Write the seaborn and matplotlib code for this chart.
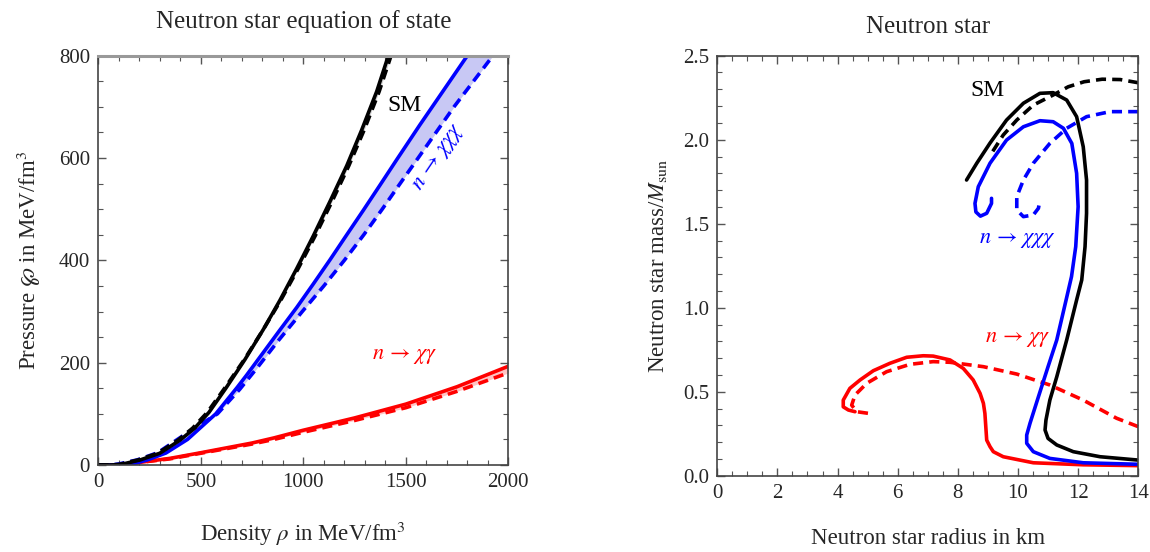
import numpy as np
import matplotlib
matplotlib.use('Agg')
import matplotlib.pyplot as plt
from matplotlib.ticker import MultipleLocator
import seaborn as sns

# --------------------------
# DATA : equation of state (density rho, pressure P), MeV/fm^3
# --------------------------
rho_sm = [0, 60, 110, 205, 300, 400, 470, 540, 622, 715, 805, 886, 968, 1049, 1130, 1212, 1285, 1358, 1415]
p_sm = [0, 0, 1, 10, 23, 49, 72, 103, 150, 206, 265, 322, 384, 448, 515, 585, 655, 730, 800]
rho_sm_d = [0, 50, 100, 195, 290, 390, 460, 532, 616, 712, 805, 890, 975, 1058, 1140, 1222, 1297, 1370, 1428]
p_sm_d = p_sm

rho_xxx = [0, 80, 130, 175, 240, 330, 435, 573, 678, 724, 805, 886, 968, 1049, 1130, 1212, 1293, 1374,
           1456, 1569, 1800]
p_xxx = [0, 0, 1, 3, 10, 23.5, 50, 100, 152, 176, 220, 264, 308, 354, 401, 450, 498, 547, 597, 665, 800]
rho_xxx_d = [0, 60, 100, 190, 290, 386, 480, 581, 690, 775, 880, 995, 1100, 1200, 1295, 1385, 1472,
             1560, 1735, 1925]
p_xxx_d = [0, 0, 2, 10, 24, 50, 75, 100, 148, 190, 244, 300, 350, 400, 450, 500, 550, 600, 700, 800]

rho_xg = [0, 100, 200, 350, 500, 750, 857, 1000, 1250, 1500, 1750, 2000]
p_xg = [0, 0, 5, 13, 24, 43, 53, 68, 92, 119, 153, 193]
p_xg_d = [0, 0, 5, 12, 23, 41, 50, 64, 87, 112, 144, 180]

# --------------------------
# DATA : mass-radius curves (R in km, M in M_sun)
# --------------------------
r_sm = [14.0, 12.73, 11.84, 11.29, 11.0, 10.9, 10.93, 11.06, 11.29, 11.62, 11.95, 12.12, 12.23, 12.28,
        12.28, 12.17, 11.95, 11.62, 11.17, 10.73, 10.18, 9.62, 9.07, 8.63, 8.29]
m_sm = [0.093, 0.113, 0.143, 0.183, 0.222, 0.272, 0.331, 0.45, 0.589, 0.808, 1.046, 1.165, 1.363, 1.562,
        1.76, 1.958, 2.137, 2.236, 2.28, 2.276, 2.217, 2.117, 1.98, 1.86, 1.76]
r_sm_d = [14.0, 13.4, 12.8, 12.2, 11.67, 11.17, 10.51, 9.96, 9.51, 9.12]
m_sm_d = [2.339, 2.358, 2.36, 2.345, 2.315, 2.266, 2.206, 2.117, 2.028, 1.919]

r_xxx = [14.0, 12.17, 11.06, 10.51, 10.29, 10.29, 10.4, 10.68, 11.0, 11.29, 11.6, 11.78, 11.92, 12.0,
         11.95, 11.79, 11.51, 11.17, 10.73, 10.18, 9.62, 9.07, 8.68, 8.57, 8.6, 8.75, 8.96, 9.12, 9.12]
m_xxx = [0.068, 0.077, 0.103, 0.143, 0.193, 0.242, 0.312, 0.47, 0.649, 0.808, 1.046, 1.185, 1.363, 1.601,
         1.80, 1.978, 2.068, 2.107, 2.113, 2.077, 1.998, 1.86, 1.72, 1.621, 1.57, 1.545, 1.562, 1.621, 1.651]
r_xxx_d = [14.0, 13.06, 12.28, 11.62, 11.06, 10.51, 10.18, 9.96, 9.96, 10.18, 10.51, 10.68, 10.73]
m_xxx_d = [2.167, 2.167, 2.137, 2.068, 1.978, 1.86, 1.76, 1.661, 1.582, 1.542, 1.552, 1.592, 1.64]

r_xg = [14.0, 12.17, 10.51, 9.51, 9.18, 9.07, 8.96, 8.9, 8.85, 8.74, 8.51, 8.18, 7.74, 7.18, 6.85,
        6.30, 5.74, 5.19, 4.75, 4.41, 4.19, 4.19, 4.36, 4.58]
m_xg = [0.06, 0.065, 0.077, 0.113, 0.143, 0.173, 0.212, 0.371, 0.431, 0.49, 0.57, 0.639, 0.689, 0.712,
        0.714, 0.705, 0.669, 0.625, 0.57, 0.52, 0.45, 0.41, 0.391, 0.381]
r_xg_d = [14.0, 13.28, 12.17, 11.06, 9.96, 8.85, 7.74, 7.18, 6.41, 5.63, 4.97, 4.58, 4.47, 4.64, 5.19]
m_xg_d = [0.292, 0.342, 0.45, 0.54, 0.605, 0.649, 0.675, 0.679, 0.663, 0.619, 0.55, 0.48, 0.42, 0.381,
          0.367]

BLACK, BLUE, RED = '#000000', '#0000ff', '#ff0000'
LW = 2.6
DASH = (0, (2.8, 1.7))

# --------------------------
# STYLE
# --------------------------
sns.set_theme(style="ticks")
plt.rcParams['font.family'] = ['Liberation Serif', 'DejaVu Serif']
plt.rcParams['mathtext.fontset'] = 'stix'

fig = plt.figure(figsize=(11.5, 5.52), dpi=100)
ax1 = fig.add_axes([0.0855, 0.1576, 0.3565, 0.7415])
ax2 = fig.add_axes([0.6237, 0.1382, 0.3661, 0.7609])


def curve(ax, x, y, color, dashed=False):
    kw = dict(linestyle=DASH) if dashed else {}
    sns.lineplot(x=x, y=y, ax=ax, sort=False, estimator=None, color=color,
                 linewidth=LW, **kw)


def band(ax, xs, ys, xd, yd, color):
    grid = np.linspace(0, 2000, 400)
    ax.fill_between(grid, np.interp(grid, xs, ys), np.interp(grid, xd, yd),
                    color=color, lw=0)


# --------------------------
# LEFT : equation of state
# --------------------------
band(ax1, rho_sm, p_sm, rho_sm_d, p_sm_d, '#d0d0d0')
band(ax1, rho_xxx, p_xxx, rho_xxx_d, p_xxx_d, '#c8c8f4')
band(ax1, rho_xg, p_xg, rho_xg, p_xg_d, '#ffc4c4')
curve(ax1, rho_xg, p_xg, RED)
curve(ax1, rho_xg, p_xg_d, RED, dashed=True)
curve(ax1, rho_xxx, p_xxx, BLUE)
curve(ax1, rho_xxx_d, p_xxx_d, BLUE, dashed=True)
curve(ax1, rho_sm, p_sm, BLACK)
curve(ax1, rho_sm_d, p_sm_d, BLACK, dashed=True)

ax1.text(1494, 702, 'SM', color=BLACK, fontsize=17, ha='center', va='center')
ax1.text(1665, 600, r'$n\,\rightarrow\,\chi\chi\chi$', color=BLUE, fontsize=16,
         ha='center', va='center', rotation=56)
ax1.text(1494, 212, r'$n\,\rightarrow\,\chi\gamma$', color=RED, fontsize=16,
         ha='center', va='center')

ax1.set_xlim(0, 2000)
ax1.set_ylim(0, 800)
ax1.xaxis.set_major_locator(MultipleLocator(500))
ax1.xaxis.set_minor_locator(MultipleLocator(100))
ax1.yaxis.set_major_locator(MultipleLocator(200))
ax1.yaxis.set_minor_locator(MultipleLocator(50))
ax1.set_title('Neutron star equation of state', fontsize=18, pad=20)
ax1.set_xlabel(r'Density $\rho$ in MeV/fm$^3$', fontsize=16.5)
ax1.set_ylabel(r'Pressure $\wp$ in MeV/fm$^3$', fontsize=16.5)
ax1.xaxis.set_label_coords(0.5, -0.135)
ax1.yaxis.set_label_coords(-0.135, 0.5)

# --------------------------
# RIGHT : mass-radius
# --------------------------
curve(ax2, r_xg, m_xg, RED)
curve(ax2, r_xg_d, m_xg_d, RED, dashed=True)
curve(ax2, r_xxx, m_xxx, BLUE)
curve(ax2, r_xxx_d, m_xxx_d, BLUE, dashed=True)
curve(ax2, r_sm, m_sm, BLACK)
curve(ax2, r_sm_d, m_sm_d, BLACK, dashed=True)

ax2.text(9.0, 2.29, 'SM', color=BLACK, fontsize=17, ha='center', va='center')
ax2.text(9.97, 1.40, r'$n\,\rightarrow\,\chi\chi\chi$', color=BLUE, fontsize=16,
         ha='center', va='center')
ax2.text(10.0, 0.81, r'$n\,\rightarrow\,\chi\gamma$', color=RED, fontsize=16,
         ha='center', va='center')

ax2.set_xlim(0, 14)
ax2.set_ylim(0, 2.5)
ax2.xaxis.set_major_locator(MultipleLocator(2))
ax2.xaxis.set_minor_locator(MultipleLocator(0.5))
ax2.yaxis.set_major_locator(MultipleLocator(0.5))
ax2.yaxis.set_minor_locator(MultipleLocator(0.1))
ax2.set_title('Neutron star', fontsize=18, pad=16)
ax2.set_xlabel('Neutron star radius in km', fontsize=16.5)
ax2.set_ylabel(r'Neutron star mass/$M_{\rm sun}$', fontsize=16.5)
ax2.xaxis.set_label_coords(0.5, -0.125)
ax2.yaxis.set_label_coords(-0.115, 0.5)

for ax in (ax1, ax2):
    ax.tick_params(which='both', direction='in', top=True, right=True,
                   color='#555555', labelsize=15, pad=6)
    ax.tick_params(which='major', length=6, width=1)
    ax.tick_params(which='minor', length=3.5, width=0.8)
    for s in ax.spines.values():
        s.set_color('#444444')
        s.set_linewidth(1.2)
ax1.spines['top'].set_color('#999999')
ax1.spines['top'].set_linewidth(2.2)

plt.savefig('out.png', dpi=100)
plt.close(fig)
